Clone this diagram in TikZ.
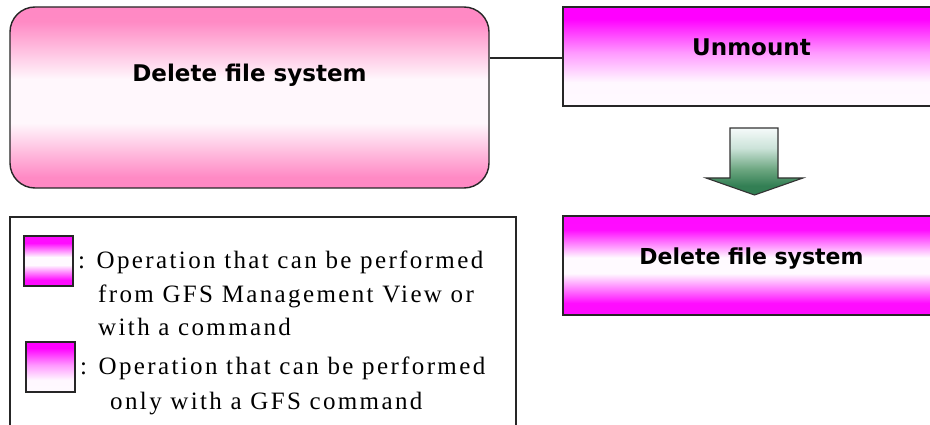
\documentclass[tikz,border=0pt]{standalone}
\usepackage{fontspec}
\setmainfont{Liberation Serif}
\newfontfamily\boxfont{DejaVu Sans}
\newfontfamily\legfont[LetterSpace=9.5]{Liberation Serif}
\pgfdeclareverticalshading{bigshade}{100bp}{rgb(0bp)=(1,0.52,0.76); rgb(28bp)=(1,0.54,0.77); rgb(43bp)=(1,0.97,0.99); rgb(55bp)=(1,0.97,0.99); rgb(71bp)=(1,0.54,0.77); rgb(100bp)=(1,0.52,0.76)}
\pgfdeclareverticalshading{unmshade}{100bp}{rgb(0bp)=(1,1,1); rgb(37bp)=(1,0.97,1); rgb(52bp)=(1,0.6,1); rgb(69bp)=(1,0,1); rgb(100bp)=(1,0,1)}
\pgfdeclareverticalshading{delshade}{100bp}{rgb(0bp)=(1,0,1); rgb(31bp)=(1,0.05,1); rgb(46bp)=(1,0.98,1); rgb(54bp)=(1,0.98,1); rgb(68bp)=(1,0.05,1); rgb(100bp)=(1,0,1)}
\pgfdeclareverticalshading{arrowshade}{100bp}{rgb(0bp)=(0.17,0.47,0.3); rgb(32bp)=(0.2,0.5,0.33); rgb(44bp)=(0.42,0.65,0.5); rgb(60bp)=(0.8,0.89,0.85); rgb(75bp)=(0.96,0.98,0.98); rgb(100bp)=(0.96,0.98,0.98)}
\tikzset{
  outline/.style={draw=black!85, line width=1.4pt},
  bigbox/.style={outline, rounded corners=25pt, shading=bigshade, minimum width=479pt, minimum height=181pt, inner sep=0pt},
  unmbox/.style={outline, shading=unmshade, minimum width=377pt, minimum height=99pt, inner sep=0pt},
  delbox/.style={outline, shading=delshade, minimum width=377pt, minimum height=99pt, inner sep=0pt},
  swA/.style={outline, shading=delshade, minimum width=49pt, minimum height=50pt, inner sep=0pt},
  swB/.style={outline, shading=unmshade, minimum width=49pt, minimum height=50pt, inner sep=0pt},
  boxtext/.style={font=\boxfont\bfseries\fontsize{23}{27}\selectfont, anchor=base, inner sep=0pt},
  legtext/.style={font=\legfont\fontsize{25}{29}\selectfont, anchor=base west, inner sep=0pt},
  conn/.style={draw=black!85, line width=1.3pt},
  arrowbody/.style={draw=black!80, line width=1.1pt, shading=arrowshade}
}
\begin{document}
\begin{tikzpicture}[x=1pt, y=-1pt]
\useasboundingbox (0,0) rectangle (930,425);
\clip (0,0) rectangle (930,425);
% main boxes
\node[bigbox] (big) at (249.5,97.5) {};
\node[boxtext] (bigtext) at (249.5,82) {Delete file system};
\node[unmbox] (unm) at (751.5,56.5) {};
\node[boxtext] (unmtext) at (751.5,56) {Unmount};
\node[delbox] (del) at (751.5,265.5) {};
\node[boxtext, font=\boxfont\bfseries\fontsize{22}{26}\selectfont] (deltext) at (751.5,265) {Delete file system};
% connector
\coordinate (cy) at (0,58);
\draw[conn] (big.east |- cy) -- (unm.west |- cy);
% arrow
\path[arrowbody] (730,128) -- (778,128) -- (778,178) -- (803,178) -- (754.5,195) -- (706,178) -- (730,178) -- cycle;
% legend
\draw[outline] (10,440) -- (10,217) -- (516,217) -- (516,440);
\node[swA] (swa) at (48.5,261) {};
\node[swB] (swb) at (50.5,367) {};
\node[legtext] (l1) at (78,269) {: Operation that can be performed};
\node[legtext] (l2) at (98,302) {from GFS Management View or};
\node[legtext] (l3) at (98,335) {with a command};
\node[legtext] (l4) at (80,374) {: Operation that can be performed};
\node[legtext] (l5) at (110,409) {only with a GFS command};
\end{tikzpicture}
\end{document}
